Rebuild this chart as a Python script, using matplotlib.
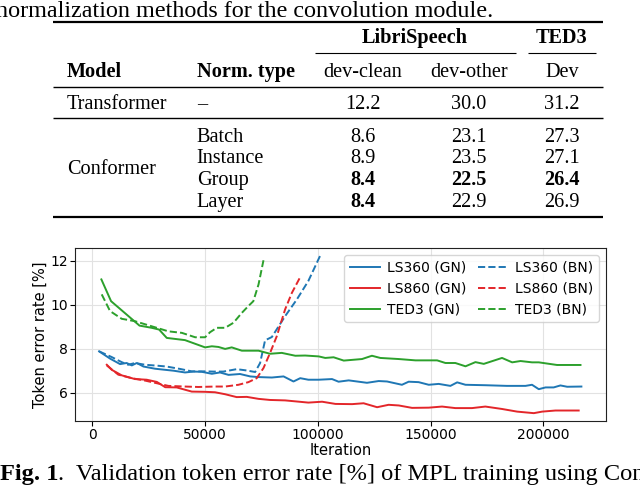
import matplotlib
matplotlib.use("Agg")
import matplotlib.pyplot as plt

# ---- Table data ----
col_groups = ["LibriSpeech", "TED3"]
col_names = ["dev-clean", "dev-other", "Dev"]
models = ["Transformer", "Conformer"]
norm_types = ["Batch", "Instance", "Group", "Layer"]
transformer_wer = ["12.2", "30.0", "31.2"]
conformer_wer = [
    ["8.6", "23.1", "27.3"],
    ["8.9", "23.5", "27.1"],
    ["8.4", "22.5", "26.4"],
    ["8.4", "22.9", "26.9"],
]
conformer_bold = [
    [False, False, False],
    [False, False, False],
    [True, True, True],
    [True, False, False],
]

# ---- Chart data: token error rate [%] vs iteration ----
ls360_gn_x = [3000, 7850, 12300, 15200, 17500, 19700, 22650, 27800, 32300, 36000,
              41100, 44800, 48500, 53000, 56600, 60400, 65500, 70000, 73700, 79600,
              84800, 89200, 92200, 95800, 100400, 106300, 109200, 113700, 121800, 127000,
              130700, 137300, 140300, 144700, 149200, 153600, 158800, 161800, 165500, 174300,
              183900, 192100, 195000, 198000, 201000, 204600, 207600, 210600, 216900]
ls360_gn_y = [7.89, 7.56, 7.31, 7.36, 7.25, 7.36, 7.20, 7.10, 7.05, 7.01,
              6.93, 6.97, 6.96, 6.87, 6.93, 6.82, 6.86, 6.75, 6.72, 6.70,
              6.75, 6.52, 6.67, 6.60, 6.60, 6.63, 6.51, 6.57, 6.46, 6.54,
              6.52, 6.37, 6.51, 6.49, 6.37, 6.41, 6.32, 6.48, 6.37, 6.35,
              6.32, 6.32, 6.37, 6.17, 6.25, 6.25, 6.34, 6.28, 6.29]

ls860_gn_x = [6400, 8600, 13000, 18900, 24100, 28600, 32300, 37400, 44100, 50000,
              54400, 58900, 64000, 68500, 73700, 78800, 85500, 90700, 95800, 101900,
              107800, 115200, 120300, 126300, 131400, 135900, 141800, 149200, 155100, 161000,
              168400, 174300, 181700, 188400, 195800, 199500, 205400, 215700]
ls860_gn_y = [7.28, 7.05, 6.80, 6.63, 6.60, 6.50, 6.26, 6.25, 6.06, 6.05,
              6.03, 5.94, 5.81, 5.82, 5.73, 5.68, 5.66, 5.61, 5.56, 5.60,
              5.50, 5.49, 5.53, 5.35, 5.46, 5.43, 5.32, 5.33, 5.38, 5.31,
              5.31, 5.38, 5.27, 5.15, 5.08, 5.15, 5.20, 5.20]

ted3_gn_x = [4000, 8300, 20900, 26300, 29600, 33000, 41100, 50000, 53000, 55900,
             58900, 61800, 66300, 73700, 78800, 84000, 90000, 94400, 100400, 103300,
             107000, 111500, 119600, 124000, 127700, 135900, 143300, 152900, 156600, 161000,
             165500, 169900, 173600, 181700, 186200, 189900, 195000, 198000, 206100, 216500]
ted3_gn_y = [11.16, 10.17, 9.06, 8.96, 8.88, 8.50, 8.40, 8.07, 8.12, 8.09,
             8.00, 8.07, 7.92, 7.92, 7.78, 7.82, 7.69, 7.70, 7.66, 7.59,
             7.62, 7.47, 7.54, 7.69, 7.59, 7.54, 7.48, 7.48, 7.36, 7.36,
             7.21, 7.40, 7.32, 7.59, 7.39, 7.45, 7.39, 7.39, 7.27, 7.27]

ls360_bn_x = [3000, 8600, 13000, 15900, 18900, 23400, 28600, 32900, 38900, 44100,
              50000, 53700, 58100, 64000, 68500, 72200, 74400, 76600, 79600, 85500,
              90700, 95800, 101000]
ls360_bn_y = [7.89, 7.63, 7.40, 7.28, 7.36, 7.28, 7.24, 7.20, 7.09, 6.98,
              6.98, 6.97, 6.97, 7.08, 7.02, 6.95, 7.36, 8.39, 8.54, 9.49,
              10.25, 11.09, 12.23]

ls860_bn_x = [6400, 11500, 17500, 23400, 28600, 33700, 41100, 47000, 54400, 58900,
              64800, 69200, 72900, 75900, 78800, 81800, 85500, 88500, 91900]
ls860_bn_y = [7.25, 6.83, 6.67, 6.56, 6.44, 6.32, 6.29, 6.27, 6.29, 6.29,
              6.37, 6.49, 6.67, 7.13, 7.81, 8.58, 9.80, 10.55, 11.21]

ted3_bn_x = [4150, 7850, 13000, 18900, 26300, 33700, 39700, 45600, 50000, 52200,
             55200, 58900, 62600, 66300, 69200, 71400, 73700, 75900]
ted3_bn_y = [10.48, 9.72, 9.37, 9.26, 9.03, 8.80, 8.73, 8.53, 8.53, 8.76,
             8.96, 8.96, 9.19, 9.64, 9.95, 10.17, 10.93, 12.03]

BLUE, RED, GREEN = "#1f77b4", "#e3262a", "#2ca02c"
SERIF = "Liberation Serif"

fig = plt.figure(figsize=(6.4, 4.86), dpi=100)

# overlay in pixel units for the table and captions
tax = fig.add_axes([0, 0, 1, 1])
tax.set_xlim(0, 640)
tax.set_ylim(486, 0)
tax.axis("off")

def txt(x, y, s, ha="left", bold=False, size=14.6):
    return tax.text(x, y, s, ha=ha, va="baseline", fontsize=size,
                    family=SERIF, fontweight="bold" if bold else "normal")

def rule(x0, x1, y, lw):
    tax.plot([x0, x1], [y, y], color="black", lw=lw, solid_capstyle="butt")

txt(-4, 16.7, "normalization methods for the convolution module.", size=17.4)

rule(52.7, 602.7, 21.7, 1.6)
txt(415, 43.4, col_groups[0], ha="center", bold=True)
txt(562, 43.4, col_groups[1], ha="center", bold=True)
rule(315, 516, 53.3, 0.8)
rule(528, 596, 53.3, 0.8)

col_x = [363, 469, 562]
txt(66.7, 76.7, "Model", bold=True)
txt(196.7, 76.7, "Norm. type", bold=True)
for cx, name in zip(col_x, col_names):
    txt(cx, 76.7, name, ha="center")
rule(52.7, 602.7, 87.3, 1.0)

txt(66.7, 109.4, models[0])
txt(197, 109.4, "\u2013")
for cx, v in zip(col_x, transformer_wer):
    txt(cx, 109.4, v, ha="center")
rule(52.7, 602.7, 118.3, 1.0)

row_base = [141.7, 163.4, 185.0, 206.7]
txt(66.7, 174.0, models[1])
for yb, nt, vals, bolds in zip(row_base, norm_types, conformer_wer, conformer_bold):
    txt(196.7, yb, nt)
    for cx, v, b in zip(col_x, vals, bolds):
        txt(cx, yb, v, ha="center", bold=b)
rule(52.7, 602.7, 217.3, 1.6)

# bottom caption, bold figure label followed by regular text
t1 = txt(0, 480, "Fig. 1", bold=True, size=17.6)
fig.canvas.draw()
bb = t1.get_window_extent()
txt(bb.x1, 480, ".  Validation token error rate [%] of MPL training using Con",
    size=17.6)

# ---- chart ----
ax = fig.add_axes([0.1172, 0.1337, 0.8289, 0.356])
l1, = ax.plot(ls360_gn_x, ls360_gn_y, color=BLUE, lw=1.4, label="LS360 (GN)")
l2, = ax.plot(ls360_bn_x, ls360_bn_y, color=BLUE, lw=1.4, ls="--", label="LS360 (BN)")
l3, = ax.plot(ls860_gn_x, ls860_gn_y, color=RED, lw=1.4, label="LS860 (GN)")
l4, = ax.plot(ls860_bn_x, ls860_bn_y, color=RED, lw=1.4, ls="--", label="LS860 (BN)")
l5, = ax.plot(ted3_gn_x, ted3_gn_y, color=GREEN, lw=1.4, label="TED3 (GN)")
l6, = ax.plot(ted3_bn_x, ted3_bn_y, color=GREEN, lw=1.4, ls="--", label="TED3 (BN)")

ax.set_yticks([6, 8, 10, 12])
ax.set_xticks([0, 50000, 100000, 150000, 200000])
ax.tick_params(labelsize=10, length=3.5, pad=1.5)
ax.set_xlabel("Iteration", fontsize=10.5, labelpad=1)
ax.set_ylabel("Token error rate [%]", fontsize=10.5, labelpad=2)
ax.grid(color="#e2e2e2", lw=0.8)
ax.set_axisbelow(True)
for sp in ax.spines.values():
    sp.set_color("#222222")

# GN curves in the first legend column, BN curves in the second
ax.legend([l1, l3, l5, l2, l4, l6],
          [h.get_label() for h in (l1, l3, l5, l2, l4, l6)],
          ncol=2, loc="upper right", fontsize=10,
          handlelength=2.15, handletextpad=0.5, columnspacing=0.85,
          borderaxespad=0.5)

fig.savefig("out.png", dpi=100)
